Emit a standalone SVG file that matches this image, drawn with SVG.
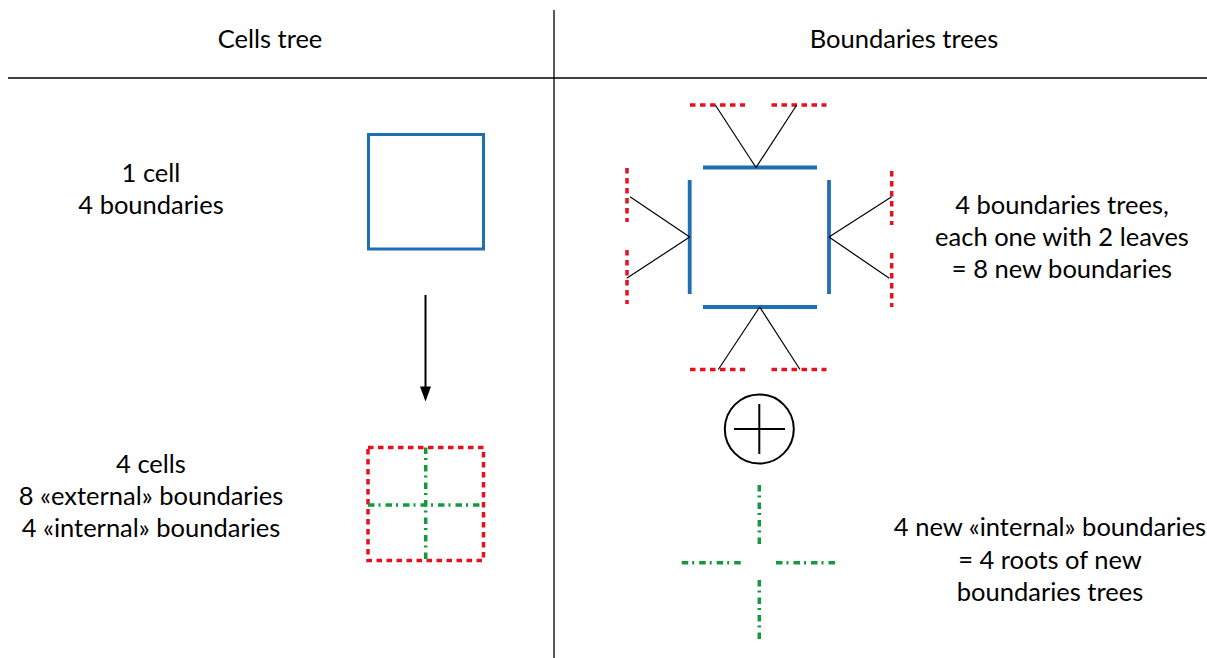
<svg xmlns="http://www.w3.org/2000/svg" width="1207" height="658" viewBox="0 0 1207 658">
  <style>
    .txt { font-family: Lato, "Open Sans", sans-serif; font-size: 25.5px; fill: #000; text-anchor: middle; }
    .rule { stroke: #000; stroke-width: 1.3; fill: none; }
    .cell { stroke: #1f6fb5; stroke-width: 3; fill: none; }
    .bnd { stroke: #1f6fb5; stroke-width: 3.8; fill: none; }
    .ext { stroke: #e8101e; stroke-width: 3.5; stroke-dasharray: 5.5 4.5; fill: none; }
    .int { stroke: #149a3c; stroke-width: 3.5; stroke-dasharray: 6.5 4 2 5; fill: none; }
    .link { stroke: #000; stroke-width: 1.2; fill: none; }
  </style>
  <rect width="1207" height="658" fill="#fff"/>

  <!-- table rules -->
  <g id="rules">
    <line class="rule" x1="554" y1="10" x2="554" y2="658"/>
    <line class="rule" x1="8" y1="78" x2="1207" y2="78"/>
  </g>

  <!-- column headers -->
  <g id="headers">
    <text class="txt" x="270" y="48">Cells tree</text>
    <text class="txt" x="904" y="48">Boundaries trees</text>
  </g>

  <!-- left column: one cell -->
  <g id="one-cell-label">
    <text class="txt" x="151" y="182">1 cell</text>
    <text class="txt" x="151" y="214">4 boundaries</text>
  </g>
  <g id="one-cell">
    <rect class="cell" x="368.5" y="134.5" width="115" height="114.5"/>
  </g>

  <!-- left column: four cells -->
  <g id="four-cells-label">
    <text class="txt" x="151" y="473">4 cells</text>
    <text class="txt" x="151" y="505">8 «external» boundaries</text>
    <text class="txt" x="151" y="537">4 «internal» boundaries</text>
  </g>
  <g id="four-cells">
    <rect class="ext" x="368" y="447.5" width="115.5" height="113"/>
    <line class="int" x1="425.7" y1="447.5" x2="425.7" y2="560.5"/>
    <line class="int" x1="368" y1="505" x2="483.5" y2="505"/>
  </g>

  <!-- right column: boundaries trees -->
  <g id="boundary-top">
    <line class="bnd" x1="703" y1="167.5" x2="817" y2="167.5"/>
    <line class="ext" x1="690" y1="105" x2="745" y2="105"/>
    <line class="ext" x1="771.5" y1="105" x2="826.5" y2="105"/>
  </g>
  <g id="boundary-bottom">
    <line class="bnd" x1="703" y1="307" x2="817" y2="307"/>
    <line class="ext" x1="690" y1="369.5" x2="745" y2="369.5"/>
    <line class="ext" x1="771.5" y1="369.5" x2="826.5" y2="369.5"/>
  </g>
  <g id="boundary-left">
    <line class="bnd" x1="689.7" y1="180" x2="689.7" y2="294"/>
    <line class="ext" x1="627" y1="168" x2="627" y2="222"/>
    <line class="ext" x1="627" y1="250" x2="627" y2="304"/>
  </g>
  <g id="boundary-right">
    <line class="bnd" x1="829" y1="180" x2="829" y2="294"/>
    <line class="ext" x1="891.7" y1="171" x2="891.7" y2="225"/>
    <line class="ext" x1="891.7" y1="253" x2="891.7" y2="307"/>
  </g>

  <g id="trees-label">
    <text class="txt" x="1062" y="214">4 boundaries trees,</text>
    <text class="txt" x="1062" y="246">each one with 2 leaves</text>
    <text class="txt" x="1062" y="278">= 8 new boundaries</text>
  </g>

  <!-- direct sum -->
  <g id="oplus">
    <circle cx="759.3" cy="429" r="34.5" fill="none" stroke="#000" stroke-width="2"/>
    <line x1="734" y1="429" x2="785" y2="429" stroke="#000" stroke-width="2"/>
    <line x1="759.3" y1="404" x2="759.3" y2="454" stroke="#000" stroke-width="2"/>
  </g>

  <!-- new internal boundaries -->
  <g id="new-internal">
    <line class="int" x1="759.3" y1="485" x2="759.3" y2="546"/>
    <line class="int" x1="759.3" y1="580" x2="759.3" y2="641"/>
    <line class="int" x1="681.7" y1="562.7" x2="742.7" y2="562.7"/>
    <line class="int" x1="776" y1="562.7" x2="837" y2="562.7"/>
  </g>
  <g id="new-internal-label">
    <text class="txt" x="1050" y="536">4 new «internal» boundaries</text>
    <text class="txt" x="1050" y="569">= 4 roots of new</text>
    <text class="txt" x="1050" y="601">boundaries trees</text>
  </g>

  <!-- connectors -->
  <g id="connectors">
    <line x1="425.5" y1="295" x2="425.5" y2="389" stroke="#000" stroke-width="2"/>
    <polygon points="420,386.5 431,386.5 425.5,401.5" fill="#000"/>
    <line class="link" x1="756" y1="167.5" x2="715.3" y2="105"/>
    <line class="link" x1="756" y1="167.5" x2="796.7" y2="105"/>
    <line class="link" x1="759.7" y1="307" x2="718.3" y2="369.5"/>
    <line class="link" x1="759.7" y1="307" x2="800" y2="369.5"/>
    <line class="link" x1="689.7" y1="237" x2="630" y2="196.7"/>
    <line class="link" x1="689.7" y1="237" x2="626.7" y2="278.3"/>
    <line class="link" x1="829" y1="237" x2="891.7" y2="196.7"/>
    <line class="link" x1="829" y1="237" x2="889.3" y2="278.3"/>
  </g>
</svg>
